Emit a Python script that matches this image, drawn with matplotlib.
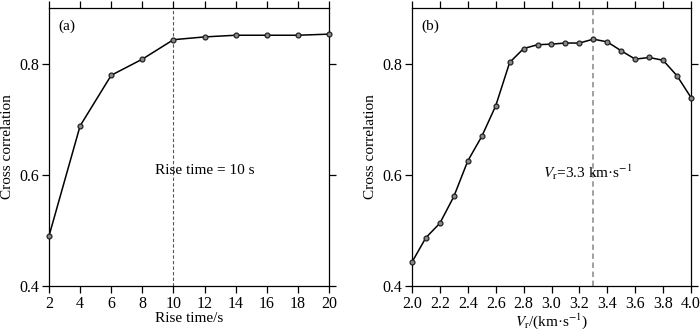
import numpy as np
import matplotlib
matplotlib.use("Agg")
import matplotlib.pyplot as plt

plt.rcParams["font.family"] = ["Liberation Serif", "DejaVu Serif"]
plt.rcParams["mathtext.fontset"] = "stix"
plt.rcParams["font.size"] = 10.5

# Données (a) : temps de montée
rise_time = [2, 4, 6, 8, 10, 12, 14, 16, 18, 20]
cc_rise = [0.490, 0.688, 0.779, 0.808, 0.843, 0.848, 0.851, 0.851, 0.851, 0.853]

# Données (b) : vitesse de rupture
vr = [2.0, 2.1, 2.2, 2.3, 2.4, 2.5, 2.6, 2.7, 2.8, 2.9, 3.0,
      3.1, 3.2, 3.3, 3.4, 3.5, 3.6, 3.7, 3.8, 3.9, 4.0]
cc_vr = [0.443, 0.487, 0.513, 0.561, 0.625, 0.669, 0.724, 0.802, 0.827, 0.834, 0.835,
         0.837, 0.837, 0.844, 0.839, 0.823, 0.808, 0.811, 0.806, 0.778, 0.739]

fig = plt.figure(figsize=(7, 3.3), dpi=100)
ax1 = fig.add_axes([49 / 700, 1 - 286 / 330, 280 / 700, 278 / 330])
ax2 = fig.add_axes([412 / 700, 1 - 286 / 330, 279 / 700, 278 / 330])

marker_style = dict(marker="o", ms=3.5, mfc="#8a8a8a", mec="#222222", mew=0.9,
                    color="black", lw=1.1)

ax1.plot(rise_time, cc_rise, **marker_style, clip_on=False, zorder=3)
ax1.axvline(10, color="#555555", ls=(0, (3, 2)), lw=0.8)
ax1.set_xlim(2, 20)
ax1.set_xticks(np.arange(2, 21, 2))
ax1.text(12, 0.607, "Rise time = 10 s", ha="center", va="center", fontsize=11)
ax1.text(0.035, 0.96, "(a)", transform=ax1.transAxes, va="top", fontsize=11)
ax1.set_xlabel("Rise time/s", labelpad=0, fontsize=11)

ax2.plot(vr, cc_vr, **marker_style, clip_on=False, zorder=3)
ax2.axvline(3.3, color="#999999", ls=(0, (3, 2)), lw=1.3)
ax2.set_xlim(2.0, 4.0)
ax2.set_xticks(np.arange(2.0, 4.01, 0.2))
ax2.set_xticklabels([f"{v:.1f}" for v in np.arange(2.0, 4.01, 0.2)])
ax2.text(3.26, 0.605, r"$V_\mathrm{r}$=3.3 km·s$^{-1}$", ha="center", va="center", fontsize=11)
ax2.text(0.035, 0.96, "(b)", transform=ax2.transAxes, va="top", fontsize=11)
ax2.set_xlabel(r"$V_\mathrm{r}$/(km·s$^{-1}$)", labelpad=0, fontsize=11)

for ax in (ax1, ax2):
    ax.set_ylim(0.4, 0.9)
    ax.set_yticks([0.4, 0.6, 0.8])
    ax.set_ylabel("Cross correlation", fontsize=11)
    ax.tick_params(direction="out", length=5, width=0.9, top=True, right=True,
                   labeltop=False, labelright=False, pad=2, labelsize=11.5)
    for s in ax.spines.values():
        s.set_linewidth(0.9)

fig.savefig("out.png", dpi=100)
